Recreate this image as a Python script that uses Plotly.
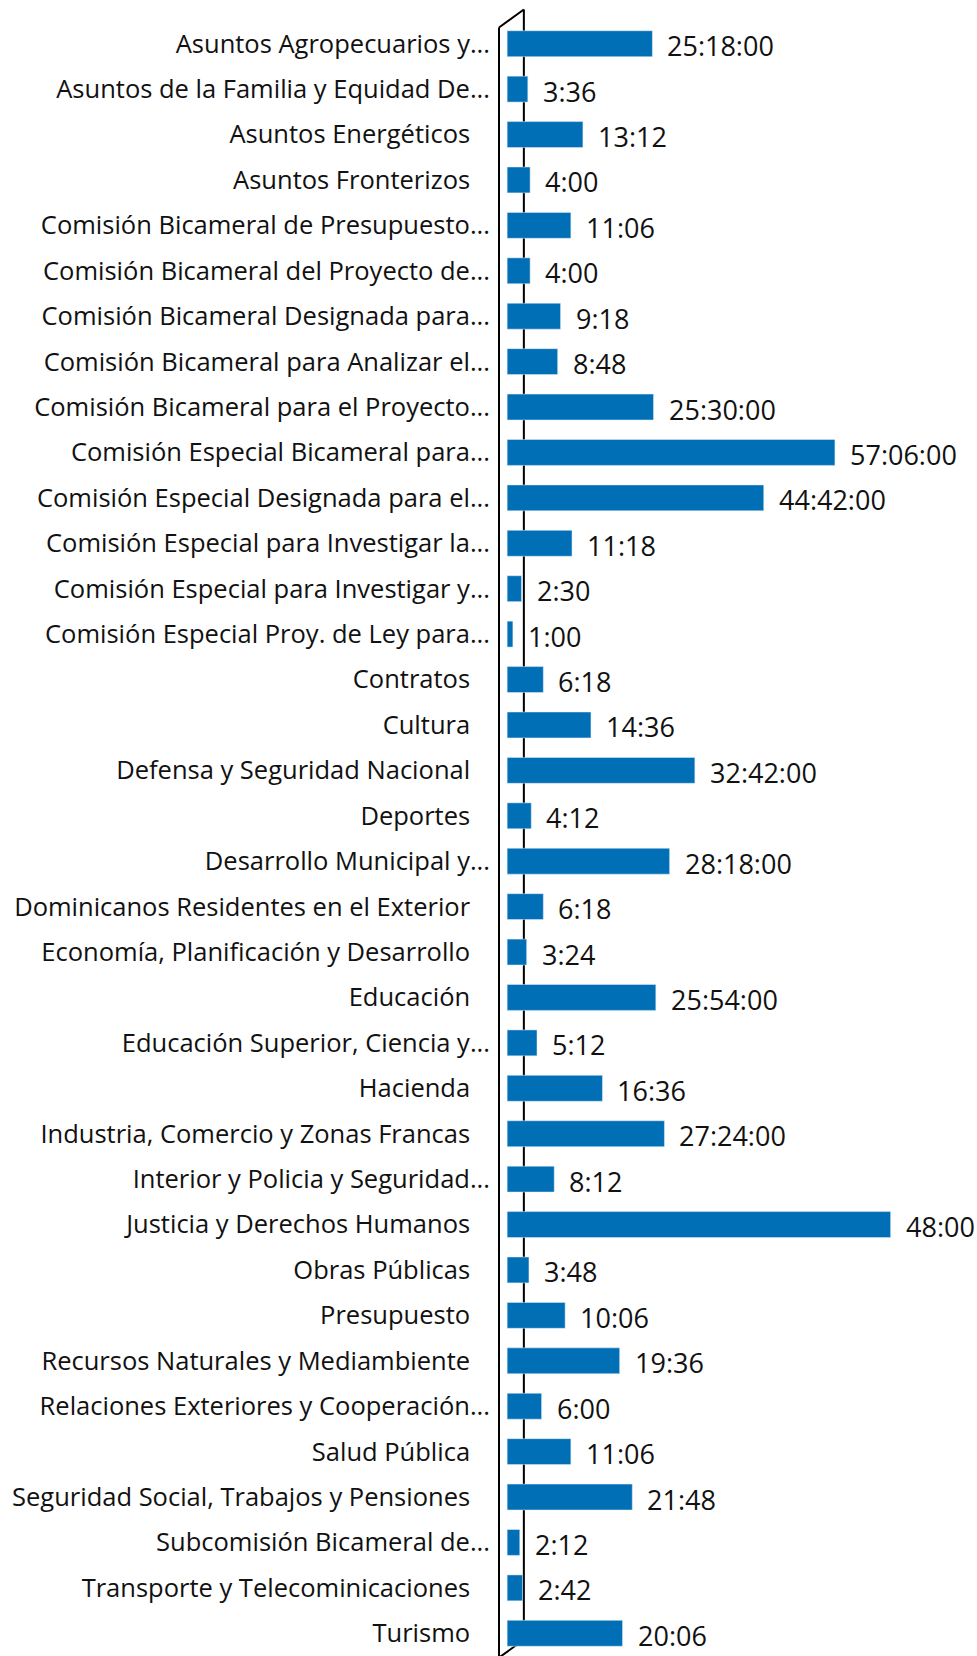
import plotly.graph_objects as go

# datos: horas por comisión
comisiones = [
    "Asuntos Agropecuarios y...",
    "Asuntos de la Familia y Equidad De...",
    "Asuntos Energéticos",
    "Asuntos Fronterizos",
    "Comisión Bicameral de Presupuesto...",
    "Comisión Bicameral del Proyecto de...",
    "Comisión Bicameral Designada para...",
    "Comisión Bicameral para Analizar el...",
    "Comisión Bicameral para el Proyecto...",
    "Comisión Especial Bicameral para...",
    "Comisión Especial Designada para el...",
    "Comisión Especial para Investigar la...",
    "Comisión Especial para Investigar y...",
    "Comisión Especial Proy. de Ley para...",
    "Contratos",
    "Cultura",
    "Defensa y Seguridad Nacional",
    "Deportes",
    "Desarrollo Municipal y...",
    "Dominicanos Residentes en el Exterior",
    "Economía, Planificación y Desarrollo",
    "Educación",
    "Educación Superior, Ciencia y...",
    "Hacienda",
    "Industria, Comercio y Zonas Francas",
    "Interior y Policia y Seguridad...",
    "Justicia y Derechos Humanos",
    "Obras Públicas",
    "Presupuesto",
    "Recursos Naturales y Mediambiente",
    "Relaciones Exteriores y Cooperación...",
    "Salud Pública",
    "Seguridad Social, Trabajos y Pensiones",
    "Subcomisión Bicameral de...",
    "Transporte y Telecominicaciones",
    "Turismo",
]

horas = [
    25.3, 3.6, 13.2, 4.0, 11.1, 4.0, 9.3, 8.8, 25.5, 57.1,
    44.7, 11.3, 2.5, 1.0, 6.3, 14.6, 32.7, 4.2, 28.3, 6.3,
    3.4, 25.9, 5.2, 16.6, 27.4, 8.2, 66.8, 3.8, 10.1, 19.6,
    6.0, 11.1, 21.8, 2.2, 2.7, 20.1,
]

etiquetas = [
    "25:18:00", "3:36", "13:12", "4:00", "11:06", "4:00", "9:18", "8:48", "25:30:00", "57:06:00",
    "44:42:00", "11:18", "2:30", "1:00", "6:18", "14:36", "32:42:00", "4:12", "28:18:00", "6:18",
    "3:24", "25:54:00", "5:12", "16:36", "27:24:00", "8:12", "48:00", "3:48", "10:06", "19:36",
    "6:00", "11:06", "21:48", "2:12", "2:42", "20:06",
]

AZUL = "#006FB6"
FUENTE = "Open Sans"

# los nombres completos quedan un poco más a la izquierda que los truncados
ticktext = [c if c.endswith("...") else c + "\u00a0\u00a0\u00a0" for c in comisiones]

fig = go.Figure()
fig.add_trace(go.Bar(
    x=horas,
    y=comisiones,
    base=-0.65,
    orientation="h",
    marker_color=AZUL,
    width=0.57,
    hoverinfo="x+y",
))

for c, h, t in zip(comisiones, horas, etiquetas):
    fig.add_annotation(
        x=h - 0.65, y=c, text=t, showarrow=False,
        xanchor="left", xshift=13, yshift=-2,
        font=dict(family=FUENTE, size=27, color="#111111"),
    )

# pared del gráfico (líneas del eje con perspectiva)
linea = dict(color="black", width=2)
fig.add_shape(type="line", xref="paper", yref="paper", x0=0, x1=0, y0=-0.01, y1=0.996, line=linea)
fig.add_shape(type="line", xref="paper", yref="paper", x0=0.052, x1=0.052, y0=0.01, y1=1.007, line=linea, layer="below")
fig.add_shape(type="line", xref="paper", yref="paper", x0=0, x1=0.052, y0=0.996, y1=1.007, line=linea)
fig.add_shape(type="line", xref="paper", yref="paper", x0=0, x1=0.052, y0=-0.001, y1=0.01, line=linea, layer="below")

fig.update_layout(
    width=977,
    height=1656,
    margin=dict(l=499, r=0, t=21, b=0),
    plot_bgcolor="white",
    paper_bgcolor="white",
    showlegend=False,
    font=dict(family=FUENTE, size=25.5, color="#111111"),
)
fig.update_xaxes(range=[-2.07, 81.2], visible=False)
fig.update_yaxes(
    autorange="reversed",
    tickvals=comisiones,
    ticktext=ticktext,
    showline=False,
    showgrid=False,
    ticks="",
    ticklabelstandoff=8,
    tickfont=dict(family=FUENTE, size=25.5, color="#111111"),
)

fig.write_html(
    "out.html",
    config={"displayModeBar": False},
    post_script="document.body.style.margin='0';",
)
